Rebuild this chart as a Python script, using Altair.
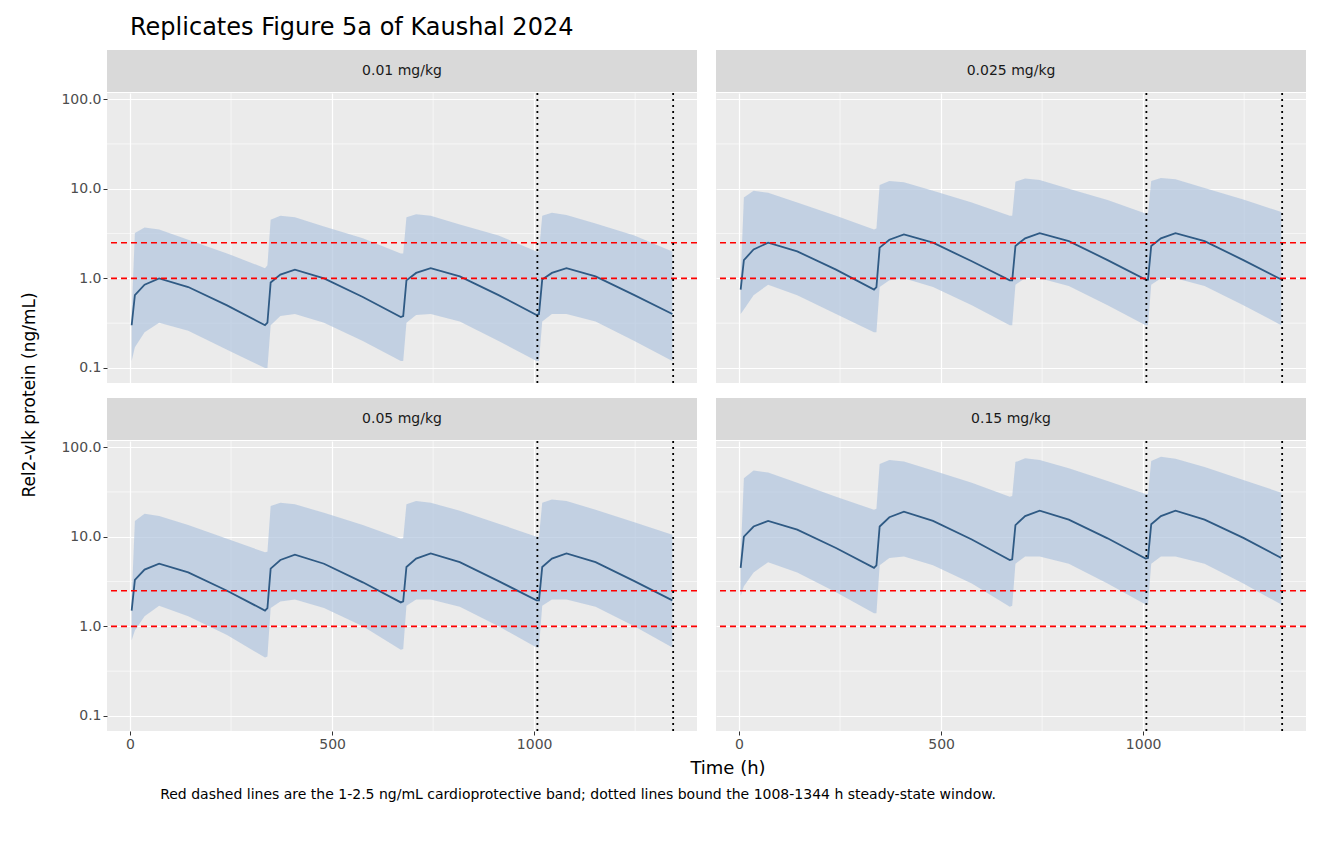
import altair as alt
import pandas as pd

doses = ["0.01 mg/kg", "0.025 mg/kg", "0.05 mg/kg", "0.15 mg/kg"]
offsets = [4, 12, 36, 72, 144, 240, 334]
cycle_starts = [0, 336, 672, 1008]

med_001 = [0.3, 0.65, 0.85, 1.0, 0.8, 0.5, 0.3, 0.32, 0.9, 1.1, 1.25, 1.0, 0.62, 0.37,
           0.38, 0.95, 1.15, 1.3, 1.05, 0.65, 0.39, 0.4, 0.97, 1.15, 1.3, 1.05, 0.65, 0.4]
upp_001 = [0.4, 3.2, 3.7, 3.5, 2.7, 1.9, 1.3, 1.4, 4.5, 5.0, 4.8, 3.8, 2.8, 1.9,
           1.9, 4.8, 5.2, 5.0, 4.0, 3.0, 2.0, 2.0, 5.0, 5.4, 5.1, 4.1, 3.0, 2.0]
low_001 = [0.12, 0.17, 0.25, 0.32, 0.26, 0.16, 0.1, 0.1, 0.3, 0.38, 0.4, 0.32, 0.2, 0.12,
           0.12, 0.32, 0.39, 0.4, 0.33, 0.2, 0.12, 0.12, 0.33, 0.4, 0.4, 0.33, 0.2, 0.12]

med_0025 = [0.75, 1.6, 2.1, 2.5, 2.0, 1.25, 0.75, 0.8, 2.2, 2.7, 3.1, 2.5, 1.55, 0.95,
            0.95, 2.3, 2.8, 3.2, 2.6, 1.6, 0.97, 0.97, 2.3, 2.8, 3.2, 2.6, 1.6, 0.97]
upp_0025 = [1.0, 8.0, 9.5, 9.0, 7.0, 5.0, 3.5, 3.6, 11.0, 12.2, 11.8, 9.5, 7.0, 5.0,
            5.0, 12.0, 13.0, 12.5, 10.0, 7.5, 5.3, 5.3, 12.2, 13.2, 12.8, 10.2, 7.6, 5.5]
low_0025 = [0.4, 0.45, 0.65, 0.85, 0.65, 0.4, 0.25, 0.25, 0.8, 0.95, 1.0, 0.8, 0.5, 0.3,
            0.3, 0.85, 1.0, 1.0, 0.82, 0.5, 0.3, 0.3, 0.85, 1.0, 1.0, 0.82, 0.5, 0.3]

med_005 = [1.5, 3.3, 4.3, 5.0, 4.0, 2.5, 1.5, 1.6, 4.4, 5.5, 6.3, 5.0, 3.1, 1.85,
           1.9, 4.6, 5.7, 6.5, 5.2, 3.2, 1.95, 1.95, 4.6, 5.7, 6.5, 5.2, 3.2, 1.95]
upp_005 = [2.0, 15.0, 18.0, 17.0, 13.5, 9.5, 6.7, 6.8, 22.0, 24.0, 23.0, 18.5, 13.5, 9.5,
           9.6, 23.0, 25.0, 24.0, 19.5, 14.0, 10.0, 10.0, 24.0, 26.0, 25.0, 20.0, 14.5, 10.5]
low_005 = [0.7, 0.9, 1.3, 1.7, 1.3, 0.8, 0.45, 0.46, 1.6, 1.9, 2.0, 1.6, 1.0, 0.55,
           0.56, 1.7, 2.0, 2.0, 1.65, 1.0, 0.58, 0.58, 1.7, 2.0, 2.0, 1.65, 1.0, 0.58]

med_015 = [4.5, 10.0, 13.0, 15.0, 12.0, 7.5, 4.5, 4.8, 13.0, 16.5, 19.0, 15.0, 9.3, 5.5,
           5.6, 13.5, 17.0, 19.5, 15.5, 9.6, 5.7, 5.8, 13.8, 17.0, 19.5, 15.5, 9.7, 5.8]
upp_015 = [6.0, 45.0, 55.0, 52.0, 40.0, 28.0, 20.0, 20.5, 65.0, 72.0, 69.0, 55.0, 40.0, 28.0,
           28.5, 68.0, 75.0, 72.0, 58.0, 42.0, 30.0, 30.0, 70.0, 78.0, 74.0, 60.0, 43.0, 31.0]
low_015 = [2.2, 2.8, 4.0, 5.2, 4.0, 2.4, 1.4, 1.4, 4.8, 5.8, 6.0, 4.8, 3.0, 1.65,
           1.7, 5.0, 6.0, 6.0, 5.0, 3.0, 1.75, 1.75, 5.0, 6.0, 6.0, 5.0, 3.0, 1.75]

series = {
    doses[0]: (med_001, low_001, upp_001),
    doses[1]: (med_0025, low_0025, upp_0025),
    doses[2]: (med_005, low_005, upp_005),
    doses[3]: (med_015, low_015, upp_015),
}
times = [c + o for c in cycle_starts for o in offsets]

band_lines = [1.0, 2.5]
window = [1008, 1344]
x_minor = [250, 750, 1250]
y_minor = [0.3162, 3.162, 31.62]

W, H, STRIP = 590, 290, 42
xdom = [-57, 1403]
ydom = [0.068, 117]


def panel(dose, show_x, show_y):
    med, low, upp = series[dose]
    df = pd.DataFrame({"t": times, "med": med, "low": low, "upp": upp})
    xax = alt.Axis(values=[0, 500, 1000], format="d", labels=show_x, ticks=show_x, domain=False,
                   gridColor="white", gridWidth=1.2, labelColor="#4d4d4d", labelFontSize=14,
                   tickColor="#333333", tickSize=4, title=None, labelFont="DejaVu Sans")
    yax = alt.Axis(values=[0.1, 1, 10, 100], format=".1f", labels=show_y, ticks=show_y,
                   domain=False, gridColor="white", gridWidth=1.2, labelColor="#4d4d4d",
                   labelFontSize=14, tickColor="#333333", tickSize=4, title=None,
                   labelFont="DejaVu Sans")
    xs = alt.Scale(domain=xdom, nice=False, zero=False)
    ys = alt.Scale(type="log", domain=ydom, nice=False)
    base = alt.Chart(df)
    minor_x = alt.Chart(pd.DataFrame({"x": x_minor})).mark_rule(color="white", strokeWidth=0.6).encode(
        x=alt.X("x:Q", scale=xs, axis=xax))
    minor_y = alt.Chart(pd.DataFrame({"y": y_minor})).mark_rule(color="white", strokeWidth=0.6).encode(
        y=alt.Y("y:Q", scale=ys, axis=yax))
    area = base.mark_area(color="#b0c4de", opacity=0.7).encode(
        x=alt.X("t:Q", scale=xs, axis=xax), y=alt.Y("low:Q", scale=ys, axis=yax), y2="upp:Q")
    line = base.mark_line(color="#2f5a84", strokeWidth=1.8).encode(
        x=alt.X("t:Q", scale=xs), y=alt.Y("med:Q", scale=ys))
    hl = alt.Chart(pd.DataFrame({"y": band_lines})).mark_rule(
        color="red", strokeDash=[6, 4], strokeWidth=1.6).encode(y=alt.Y("y:Q", scale=ys))
    vl = alt.Chart(pd.DataFrame({"x": window})).mark_rule(
        color="black", strokeDash=[2, 4], strokeWidth=1.8).encode(x=alt.X("x:Q", scale=xs))
    p = alt.layer(minor_x, minor_y, area, line, hl, vl).properties(
        width=W, height=H, view=alt.ViewBackground(fill="#EBEBEB", stroke=None))
    strip_bg = alt.Chart(pd.DataFrame({"d": [dose]})).mark_rect(color="#D9D9D9").encode(
        x=alt.value(0), x2=alt.value(W), y=alt.value(0), y2=alt.value(STRIP))
    strip_tx = alt.Chart(pd.DataFrame({"d": [dose]})).mark_text(
        fontSize=14, color="#1a1a1a", font="DejaVu Sans").encode(
        x=alt.value(W / 2), y=alt.value(STRIP / 2), text="d:N")
    strip = alt.layer(strip_bg, strip_tx).properties(
        width=W, height=STRIP, view=alt.ViewBackground(stroke=None))
    return alt.vconcat(strip, p, spacing=0)


row1 = alt.hconcat(panel(doses[0], False, True), panel(doses[1], False, False), spacing=17)
row2 = alt.hconcat(panel(doses[2], True, True), panel(doses[3], True, False), spacing=17)
grid = alt.vconcat(row1, row2, spacing=14)

ytitle = alt.Chart(pd.DataFrame({"s": ["Rel2-vlk protein (ng/mL)"]})).mark_text(
    angle=270, fontSize=17, font="DejaVu Sans", color="black").encode(
    x=alt.value(22), y=alt.value(345), text="s:N").properties(
    width=50, height=680, view=alt.ViewBackground(stroke=None))

top = alt.hconcat(ytitle, grid, spacing=2)

xtitle = alt.Chart(pd.DataFrame({"s": ["Time (h)"]})).mark_text(
    fontSize=18, font="DejaVu Sans", color="black").encode(
    x=alt.value(720), y=alt.value(14), text="s:N").properties(
    width=1320, height=26, view=alt.ViewBackground(stroke=None))
caption = alt.Chart(pd.DataFrame({"s": [
    "Red dashed lines are the 1-2.5 ng/mL cardioprotective band; dotted lines bound the 1008-1344 h steady-state window."
]})).mark_text(fontSize=14, font="DejaVu Sans", color="black").encode(
    x=alt.value(570), y=alt.value(10), text="s:N").properties(
    width=1320, height=20, view=alt.ViewBackground(stroke=None))

chart = alt.vconcat(top, xtitle, caption, spacing=4).properties(
    title=alt.TitleParams("Replicates Figure 5a of Kaushal 2024", anchor="start", fontSize=24,
                          font="DejaVu Sans", fontWeight="normal", offset=10, dx=122)
).configure(padding={"left": 0, "top": 8, "right": 0, "bottom": 0}).configure_concat(spacing=0)

chart.save("out.html", embed_options={"renderer": "svg", "actions": False})
